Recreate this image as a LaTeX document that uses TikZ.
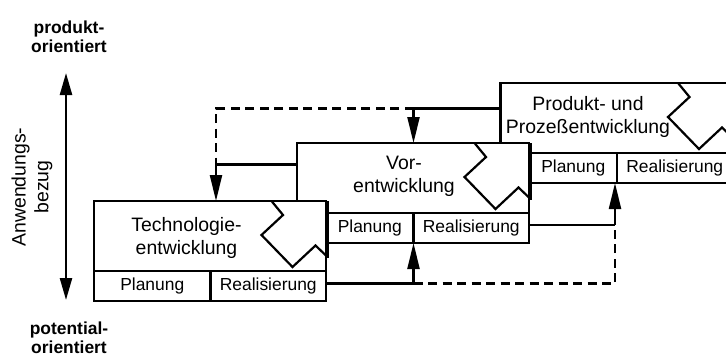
\documentclass[tikz,border=0pt]{standalone}
\usepackage{fontspec}
\setmainfont{Liberation Sans}
\usetikzlibrary{arrows.meta,calc}

\tikzset{
  stage/.style={draw, fill=white, line width=2.2bp, minimum width=232bp,
    minimum height=100bp, inner sep=0pt, outer sep=0pt, anchor=north west},
  cell/.style={draw, line width=2.2bp, minimum height=30bp, inner sep=0pt,
    outer sep=0pt},
  celltext/.style={inner sep=0pt, font=\fontsize{17.5}{20}\selectfont},
  title/.style={align=center, inner sep=0pt, font=\fontsize{19.5}{23}\selectfont},
  side/.style={align=center, inner sep=0pt, font=\fontsize{17.5}{19}\selectfont\bfseries},
  flow/.style={line width=2.2bp},
  flowarrow/.style={line width=2.2bp, -{Triangle[length=26bp,width=12bp]}},
  fb/.style={line width=2.4bp, dash pattern=on 9bp off 5.5bp},
  notch/.style={line width=2.2bp, line join=miter},
  axis/.style={line width=2.4bp, {Triangle[length=22bp,width=12bp]}-{Triangle[length=22bp,width=12bp]}}
}

% one development stage: outer box, planning/realisation row, chevron notch;
% #4 = part of the planning cell hidden by the stage in front of it
\newcommand{\stagebox}[4]{%
  \node[stage] (#1) at (#2,#3) {};
  \node[cell, anchor=south west, minimum width=116.5bp] (#1p) at (#1.south west) {};
  \node[cell, anchor=south east, minimum width=115.5bp] (#1r) at (#1.south east) {};
  \node[celltext] (#1pt) at ($(#1p.center)+(#4/2,0)$) {Planung};
  \node[celltext] (#1rt) at (#1r.center) {Realisierung};
  \draw[notch] ($(#1.north east)+(-54.5,0)$) -- ++(11.5,14) -- ++(-21.5,20)
    -- ++(31,32) -- ++(23,-21.5) -- ++(10.5,10);
  \draw[notch] ($(#1.north east)+(2,0)$) -- ++(0,57);
}

\begin{document}
\begin{tikzpicture}[x=1bp, y=-1bp]
  \useasboundingbox (0,0) rectangle (726,359);
  \clip (0,0) rectangle (726,359);

  % axis on the left
  \node[side] (prod) at (69,36.5) {produkt-\\orientiert};
  \node[side] (pot) at (69,337.5) {potential-\\orientiert};
  \node[title, rotate=90] (bezug) at (32,187) {Anwendungs-\\bezug};
  \coordinate (ua) at (66,73);
  \coordinate (ub) at (66,300);
  \draw[axis] (ua) -- (ub);

  % stages, back to front
  \stagebox{s3}{500.5}{83}{29}
  \node[title] (s3t) at (588,116.7) {Produkt- und\\Prozeßentwicklung};
  \stagebox{s2}{297}{143}{29}
  \node[title] (s2t) at (404,176.7) {Vor-\\entwicklung};
  \stagebox{s1}{94}{201}{0}
  \node[title] (s1t) at (186.5,238.3) {Technologie-\\entwicklung};

  % feedback paths above the stages
  \coordinate (j1) at (413.5,108.5);
  \coordinate (j2) at (216,108.5);
  \coordinate (j3) at (216,164.5);
  \draw[flow] (s3.west |- j1) -- (j1);
  \draw[flowarrow] (j1) -- (j1 |- s2.north);
  \draw[fb] (j1) -- (j2) -- (j3);
  \draw[flow] (s2.west |- j3) -- (j3);
  \draw[flowarrow] (j3) -- (j3 |- s1.north);

  % forward paths below the stages
  \coordinate (j4) at (413.5,283.5);
  \coordinate (j5) at (615,283.5);
  \coordinate (j6) at (615,225);
  \draw[flow] (s1.east |- j4) -- (j4);
  \draw[flowarrow] (j4) -- (j4 |- s2.south);
  \draw[fb] (j4) -- (j5) -- (j6);
  \draw[flow] (s2.east |- j6) -- (j6);
  \draw[flowarrow] (j6) -- (j6 |- s3.south);
\end{tikzpicture}
\end{document}
